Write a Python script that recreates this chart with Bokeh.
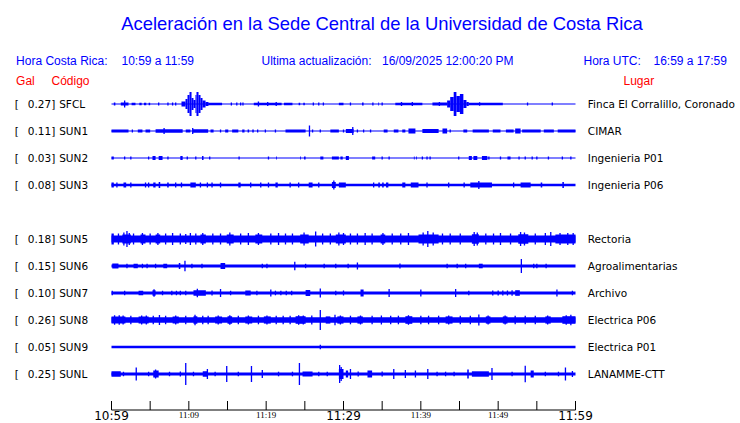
from bokeh.plotting import figure
from bokeh.models import Range1d, ColumnDataSource
from bokeh.core.properties import value
from bokeh.embed import file_html
from bokeh.resources import INLINE

# ---------------- data ----------------
TITLE = "Aceleración en la Sede Central de la Universidad de Costa Rica"
HORA_CR_LABEL = "Hora Costa Rica:"
HORA_CR = "10:59 a 11:59"
ACT_LABEL = "Ultima actualización:"
ACTUALIZACION = "16/09/2025 12:00:20 PM"
UTC_LABEL = "Hora UTC:"
HORA_UTC = "16:59 a 17:59"

codes = ["SFCL", "SUN1", "SUN2", "SUN3", "SUN5", "SUN6", "SUN7", "SUN8", "SUN9", "SUNL"]
gal = [0.27, 0.11, 0.03, 0.08, 0.18, 0.15, 0.10, 0.26, 0.05, 0.25]
places = ["Finca El Corralillo, Coronado", "CIMAR", "Ingenieria P01", "Ingenieria P06",
          "Rectoria", "Agroalimentarias", "Archivo", "Electrica P06", "Electrica P01", "LANAMME-CTT"]
rows = [0, 1, 2, 3, 5, 6, 7, 8, 9, 10]
# background noise half-amplitude (relative units) for each trace
noise = [0.5, 0.5, 0.5, 1.3, 3.6, 1.4, 1.4, 2.8, 1.2, 1.6]

# minutes after 10:59 (start, end, half amplitude in relative units); start == end -> single spike
ev_SFCL = [(0.3, 0.5, 1.5), (1.2, 2.2, 1.6), (1.7, 1.7, 3.5), (2.6, 3.1, 1.3), (3.6, 3.9, 1.3),
           (4.2, 4.5, 1.3), (4.8, 5.0, 1.3), (6.1, 6.1, 1.5), (7.3, 7.3, 1.5), (7.9, 7.9, 1.5),
           (8.3, 8.3, 1.5), (9.05, 9.57, 2.5), (9.57, 9.83, 5), (9.83, 10.09, 9), (10.09, 10.35, 12),
           (10.35, 10.6, 6), (10.6, 10.86, 4), (10.86, 10.99, 9), (10.99, 11.25, 12), (11.25, 11.51, 9),
           (11.51, 11.77, 6), (11.77, 12.16, 3.5), (12.16, 12.54, 2), (12.5, 14.3, 1.3),
           (15.5, 15.5, 1.5), (16.2, 16.2, 1.5), (16.7, 16.7, 1.5), (17.0, 17.0, 1.5),
           (18.4, 22.0, 1.3), (19.0, 19.0, 2.5), (20.2, 20.2, 2), (21.3, 21.3, 2), (22.3, 23.4, 1.3),
           (24.2, 24.4, 1.3), (24.8, 25.0, 1.3), (26.1, 26.1, 1.5), (26.8, 26.8, 1.5), (27.4, 27.4, 1.5),
           (29.4, 30.0, 1.3), (30.9, 30.9, 1.5), (32.4, 32.6, 1.5), (33.8, 33.8, 1.5), (34.5, 34.6, 1.5),
           (35.0, 35.0, 1.5), (36.7, 40.2, 1.3), (37.5, 37.5, 2), (38.9, 38.9, 2), (41.5, 43.4, 1.4),
           (42.4, 42.4, 2), (43.4, 43.8, 3.5), (43.8, 44.25, 7), (44.25, 44.6, 12), (44.6, 45.05, 8),
           (45.05, 45.5, 10), (45.5, 45.9, 4), (45.9, 46.2, 2), (46.2, 50.6, 1.3), (47.6, 47.6, 1.8),
           (53.8, 53.8, 1.5), (57.0, 57.0, 1.5)]
ev_SUN1 = [(0.0, 2.2, 1.5), (2.7, 2.7, 1.5), (3.4, 4.0, 1.5), (4.4, 5.0, 1.5), (5.7, 9.2, 1.8),
           (6.8, 6.8, 3), (9.6, 10.2, 1.5), (10.5, 12.5, 1.8), (10.5, 10.5, 3), (12.8, 13.2, 1.5),
           (14.1, 14.1, 1.5), (14.7, 15.1, 1.5), (15.6, 16.4, 1.5), (16.9, 17.2, 1.5), (17.6, 17.8, 1.5),
           (18.2, 18.4, 1.5), (18.9, 18.9, 1.5), (19.9, 19.9, 1.5), (21.2, 21.2, 1.5), (22.5, 25.1, 1.5),
           (25.6, 25.6, 5.5), (26.0, 26.0, 1.5), (27.0, 27.0, 1.5), (28.3, 29.4, 1.5), (30.0, 30.0, 1.5),
           (30.3, 31.3, 2), (31.2, 31.2, 4), (31.8, 31.8, 1.5), (32.6, 32.6, 1.5), (33.5, 33.5, 1.5),
           (35.2, 35.7, 1.5), (36.5, 37.1, 1.5), (37.6, 38.0, 1.5), (38.4, 39.3, 2.5), (40.2, 42.3, 2),
           (42.8, 43.4, 2.5), (43.8, 43.8, 1.5), (45.5, 46.0, 1.5), (46.7, 48.8, 1.5), (49.3, 50.3, 1.5),
           (51.0, 52.0, 1.5), (52.2, 52.9, 2.5), (53.1, 55.5, 1.5), (55.9, 57.2, 1.5), (57.7, 60.0, 1.5)]
ev_SUN2 = [(0.0, 0.3, 1.5), (1.7, 1.7, 1.5), (2.5, 2.5, 1.5), (4.8, 4.8, 1.5), (5.3, 5.7, 2),
           (6.1, 6.6, 2), (7.3, 7.3, 1.5), (8.9, 9.2, 2), (9.8, 9.8, 1.5), (10.9, 10.9, 1.5),
           (11.7, 11.9, 2), (12.7, 12.7, 1.5), (16.5, 16.5, 1.5), (20.3, 20.3, 1.5), (21.3, 21.4, 1.5),
           (24.4, 24.5, 1.5), (24.9, 25.1, 1.5), (27.0, 27.4, 1.5), (28.5, 29.4, 1.5), (29.6, 29.9, 1.5),
           (30.3, 30.7, 2), (33.7, 34.1, 1.5), (35.0, 35.0, 1.5), (35.9, 35.9, 1.5), (39.1, 39.2, 1.5),
           (39.4, 39.5, 1.5), (40.2, 40.2, 1.5), (40.8, 40.8, 1.5), (41.2, 41.2, 1.5), (44.9, 44.9, 1.5),
           (46.2, 46.6, 2), (46.8, 47.3, 2), (47.9, 48.6, 2), (48.8, 48.8, 1.5), (50.3, 50.3, 1.5),
           (51.2, 51.6, 1.5), (52.7, 52.7, 1.5), (53.5, 53.5, 1.5), (54.4, 54.4, 1.5), (55.0, 55.0, 1.5),
           (56.5, 56.5, 1.5), (58.3, 58.3, 1.5), (59.4, 59.4, 1.5)]
ev_SUN3 = [(0.0, 0.3, 2.5), (0.7, 0.7, 2.5), (1.55, 1.9, 2.5), (2.5, 2.5, 2.5), (4.4, 4.4, 2.5),
           (4.8, 4.8, 2.5), (5.4, 5.7, 2.5), (6.1, 6.3, 3), (7.2, 7.4, 2.5), (8.3, 8.3, 2.5),
           (9.05, 9.05, 2.5), (10.2, 10.9, 2.5), (11.5, 11.5, 2.5), (12.4, 12.4, 2.5), (13.0, 13.0, 2.5),
           (14.1, 14.1, 2.5), (16.4, 16.7, 2.5), (18.0, 18.0, 2.5), (19.3, 19.3, 2.5), (20.3, 20.3, 2.5),
           (21.2, 21.5, 2.5), (23.1, 23.1, 2.5), (24.2, 24.2, 2.5), (25.5, 26.0, 2.5), (26.8, 26.8, 2.5),
           (28.5, 29.0, 3), (28.75, 28.75, 4.5), (29.4, 30.3, 2.5), (33.9, 33.9, 2.5), (34.5, 34.7, 2.5),
           (35.0, 35.2, 2.5), (35.5, 35.8, 2.5), (37.6, 38.0, 2.5), (38.7, 39.7, 2.5), (40.8, 40.8, 2.5),
           (43.6, 43.6, 2.5), (45.6, 45.6, 2.5), (46.4, 49.2, 2.5), (47.5, 47.5, 4), (52.0, 52.0, 2.5),
           (52.9, 54.2, 2.5), (55.5, 55.7, 2.5), (58.3, 58.5, 3)]
ev_SUN5 = [(0.0, 0.3, 5.5), (0.9, 0.9, 5.5), (1.4, 2.5, 4.6), (1.6, 1.6, 6.5), (2.0, 2.0, 8),
           (2.3, 2.3, 6), (2.85, 2.85, 5.5), (3.75, 4.4, 4.6), (4.0, 4.0, 6), (5.0, 5.0, 5.5),
           (5.7, 6.3, 4.6), (6.0, 6.0, 6), (7.0, 7.0, 5.5), (7.9, 7.9, 6), (8.9, 8.9, 5.5), (9.6, 9.6, 5),
           (10.2, 10.2, 6), (10.9, 10.9, 5.5), (11.5, 12.2, 4.6), (11.8, 11.8, 6), (13.1, 13.1, 5.5),
           (14.1, 14.1, 5.5), (14.9, 15.8, 4.6), (15.3, 15.3, 6.5), (16.7, 16.7, 5.5), (17.7, 17.7, 6),
           (18.6, 19.5, 4.6), (19.0, 19.0, 6), (20.6, 20.6, 5.5), (21.6, 21.6, 6), (22.5, 22.5, 5.5),
           (23.4, 23.4, 5.5), (24.4, 25.5, 4.6), (24.9, 24.9, 6.5), (26.4, 26.4, 7.5), (27.3, 27.3, 5.5),
           (28.3, 28.3, 5.5), (29.0, 30.3, 4.6), (29.4, 29.4, 6.5), (30.0, 30.0, 6), (30.9, 30.9, 5.5),
           (31.8, 31.8, 5.5), (32.8, 32.8, 6), (33.7, 33.7, 5.5), (34.8, 35.4, 4.6), (35.1, 35.1, 6),
           (36.3, 36.3, 5.5), (37.4, 37.4, 5.5), (38.4, 38.4, 6), (39.7, 42.3, 4.6), (40.3, 40.3, 6.5),
           (40.9, 40.9, 8), (41.6, 41.6, 6.5), (42.8, 42.8, 5.5), (43.8, 43.8, 5.5), (45.1, 45.1, 5.5),
           (46.6, 47.5, 4.8), (46.9, 46.9, 7), (47.3, 47.3, 6.5), (48.4, 48.4, 5.5), (49.4, 49.4, 5.5),
           (50.3, 50.3, 6), (51.6, 51.6, 5.5), (52.6, 53.9, 4.8), (52.9, 52.9, 7), (53.4, 53.4, 6.5),
           (54.8, 54.8, 5.5), (56.1, 56.1, 6), (56.8, 56.8, 7), (57.4, 60.0, 4.6), (58.0, 58.0, 6),
           (59.0, 59.0, 6), (59.7, 59.7, 6)]
ev_SUN6 = [(0.1, 0.9, 2.5), (2.0, 2.0, 2.3), (2.85, 3.4, 2.2), (4.0, 4.0, 2.2), (4.6, 4.6, 2.2),
           (5.7, 5.7, 2.2), (6.7, 7.2, 2.2), (8.7, 8.9, 3), (9.5, 9.5, 5.3), (10.4, 10.4, 2.2),
           (11.7, 11.7, 2.2), (14.1, 14.7, 3), (19.5, 19.5, 2.2), (20.1, 20.1, 2.2), (23.7, 23.7, 4.3),
           (25.1, 25.1, 2.2), (27.5, 27.5, 2.2), (29.0, 29.0, 2.2), (30.6, 30.6, 2.2), (31.8, 31.8, 3.5),
           (37.3, 37.3, 2.5), (43.4, 43.4, 2.2), (44.7, 44.7, 2.2), (45.8, 45.8, 2.2), (47.5, 48.0, 2.3),
           (53.0, 53.0, 7), (54.6, 54.6, 2.2), (55.0, 55.0, 2.2), (56.2, 56.2, 2.2)]
ev_SUN7 = [(0.1, 0.1, 2.3), (1.7, 1.7, 2.3), (3.5, 4.1, 2.3), (5.3, 5.7, 2.8), (5.5, 5.5, 3.7),
           (6.6, 6.6, 2.3), (7.8, 7.8, 2.3), (8.4, 8.4, 2.3), (8.9, 8.9, 2.3), (9.6, 9.6, 2.3),
           (10.6, 12.2, 2.8), (11.1, 11.1, 4.3), (13.0, 13.0, 2.5), (14.1, 14.1, 4), (15.4, 15.4, 2.3),
           (17.3, 18.0, 2.5), (18.8, 18.8, 2.3), (20.6, 20.6, 3.5), (21.2, 21.2, 2.3), (21.9, 21.9, 2.3),
           (22.6, 22.6, 2.3), (23.3, 23.3, 2.3), (25.1, 25.7, 3), (27.0, 27.0, 4.5), (29.0, 29.0, 2.3),
           (30.0, 30.0, 2.5), (32.2, 32.6, 3.5), (35.9, 35.9, 4), (40.0, 40.0, 3.5), (44.5, 44.5, 4),
           (46.2, 46.2, 2.3), (49.3, 49.3, 2.5), (50.0, 50.0, 2.5), (50.6, 50.6, 2.5), (51.2, 51.2, 2.5),
           (51.8, 51.8, 2.8), (52.2, 52.8, 2.8), (57.6, 57.6, 3.5), (59.6, 59.6, 2.3)]
ev_SUN8 = [(0.0, 1.8, 3.6), (0.4, 0.4, 4.7), (1.0, 1.0, 4.7), (1.5, 1.5, 4.5), (2.5, 2.5, 4.3),
           (3.5, 4.8, 3.6), (3.9, 3.9, 4.5), (4.5, 4.5, 4.5), (5.4, 5.4, 4.3), (6.2, 6.2, 5),
           (7.0, 7.0, 4.3), (7.9, 8.7, 3.6), (8.3, 8.3, 4.5), (9.6, 9.6, 4.3), (10.6, 11.1, 3.8),
           (10.8, 10.8, 5.3), (11.8, 11.8, 4.3), (12.5, 12.5, 4.3), (13.4, 14.3, 3.6), (13.8, 13.8, 4.5),
           (15.0, 15.6, 3.8), (15.3, 15.3, 4.8), (16.4, 16.4, 4.3), (17.3, 18.2, 3.6), (17.7, 17.7, 4.5),
           (19.0, 19.0, 4.3), (19.7, 20.6, 3.6), (20.1, 20.1, 4.5), (21.3, 21.3, 4.3), (22.2, 22.2, 4.3),
           (23.1, 23.1, 4.3), (23.8, 25.1, 3.8), (24.2, 24.2, 4.8), (24.8, 24.8, 4.5), (25.9, 25.9, 4.5),
           (27.0, 27.0, 10), (27.7, 28.3, 3.6), (28.9, 28.9, 5.3), (29.2, 30.0, 3.6), (29.6, 29.6, 4.5),
           (30.9, 30.9, 4.3), (31.8, 32.5, 3.6), (32.2, 32.2, 4.5), (33.7, 33.7, 4.3), (34.9, 34.9, 4.5),
           (36.1, 36.1, 4.3), (37.1, 37.1, 4.3), (38.0, 38.9, 3.8), (38.4, 38.4, 4.8), (40.0, 40.0, 4.3),
           (41.0, 41.0, 4.3), (42.3, 42.3, 4.3), (43.2, 44.1, 3.6), (43.6, 43.6, 4.5), (45.1, 45.1, 4.3),
           (46.4, 46.4, 4.3), (47.5, 47.5, 5.5), (48.4, 49.0, 3.6), (48.7, 48.7, 4.5), (50.6, 51.2, 3.6),
           (50.9, 50.9, 4.5), (52.2, 52.2, 4.3), (53.5, 53.5, 4.3), (54.8, 54.8, 4.3), (56.1, 56.8, 3.6),
           (56.4, 56.4, 4.5), (58.3, 60.0, 3.8), (58.8, 58.8, 4.8), (59.4, 59.4, 5.2)]
ev_SUN9 = [(27.0, 27.0, 2.3)]
ev_SUNL = [(0.0, 1.2, 2.7), (1.55, 1.55, 2.3), (3.2, 3.2, 6.5), (4.8, 4.8, 2.3), (5.4, 6.1, 3.5),
           (5.7, 5.7, 4.5), (7.5, 7.5, 2.3), (8.9, 8.9, 2.5), (9.6, 9.6, 11), (10.6, 10.6, 2.3),
           (11.8, 12.4, 2.8), (12.4, 12.4, 5), (13.4, 13.4, 2.3), (14.9, 14.9, 8), (16.4, 16.4, 2.3),
           (18.1, 18.1, 8), (19.5, 19.5, 4), (21.6, 21.6, 2.3), (23.4, 23.4, 2.3), (24.3, 24.3, 11),
           (24.7, 26.0, 2.5), (26.8, 26.8, 2.3), (27.9, 27.9, 2.3), (29.4, 30.0, 5), (29.5, 29.5, 9),
           (29.7, 29.7, 7), (30.3, 30.6, 3.5), (30.9, 30.9, 5), (31.9, 31.9, 2.5), (33.1, 33.7, 3.5),
           (35.0, 35.0, 2.5), (36.5, 36.5, 5), (38.0, 38.0, 4), (39.3, 39.3, 3.5), (40.9, 40.9, 5),
           (42.1, 42.1, 2.3), (43.2, 43.2, 2.3), (44.3, 44.3, 2.3), (46.0, 46.2, 4.5), (46.6, 48.8, 2.7),
           (49.2, 49.2, 6), (51.8, 51.8, 2.3), (53.5, 53.5, 8.3), (54.2, 54.6, 3.5), (56.1, 56.1, 2.3),
           (57.8, 57.8, 2.3), (58.7, 58.7, 6.5), (59.6, 59.6, 3)]
events = [ev_SFCL, ev_SUN1, ev_SUN2, ev_SUN3, ev_SUN5, ev_SUN6, ev_SUN7, ev_SUN8, ev_SUN9, ev_SUNL]

window_minutes = [0, 60]
tick_minutes = [0, 5, 10, 15, 20, 25, 30, 35, 40, 45, 50, 55, 60]
big_label_minutes = [0, 30, 60]
big_labels = ["10:59", "11:29", "11:59"]
small_label_minutes = [10, 20, 40, 50]
small_labels = ["11:09", "11:19", "11:39", "11:49"]

# ---------------- layout helpers (reference pixels -> data) ----------------
W, H = 740, 423
PX_PER_MIN = 464.0 / 60.0
ROW_PX = 27.0
GAIN = 1.0 / ROW_PX          # relative amplitude unit -> row units
SPIKE_W = 0.17               # width of single spikes, minutes


def mx(px):
    return (px - 111.0) / PX_PER_MIN


def ry(py):
    return (py - 103.5) / ROW_PX


BLUE = "#0000ff"
RED = "#ff0000"

p = figure(width=W, height=H, output_backend="svg", toolbar_location=None,
           x_range=Range1d(mx(0), mx(W)), y_range=Range1d(ry(H), ry(0)),
           x_axis_type=None, y_axis_type=None, min_border=0)
p.grid.visible = False
p.outline_line_color = None
p.background_fill_color = "white"
p.border_fill_color = "white"

# traces: background band + events
L, R, B, T = [], [], [], []
for row, nz, evs in zip(rows, noise, events):
    L.append(window_minutes[0]); R.append(window_minutes[1])
    B.append(row - nz * GAIN); T.append(row + nz * GAIN)
    for t0, t1, a in evs:
        if t1 <= t0:
            t0, t1 = t0 - SPIKE_W / 2, t0 + SPIKE_W / 2
        L.append(max(t0, window_minutes[0])); R.append(min(t1, window_minutes[1]))
        B.append(row - a * GAIN); T.append(row + a * GAIN)
p.quad(left="left", right="right", bottom="bottom", top="top",
       source=ColumnDataSource(dict(left=L, right=R, bottom=B, top=T)),
       fill_color=BLUE, line_color=None)

# time axis
p.segment(x0=[window_minutes[0]], x1=[window_minutes[1]], y0=[ry(409.5)], y1=[ry(409.5)],
          line_color="black", line_width=1)
p.segment(x0=tick_minutes, x1=tick_minutes, y0=[ry(400.5)] * len(tick_minutes),
          y1=[ry(409.5)] * len(tick_minutes), line_color="black", line_width=1)
p.text(x=big_label_minutes, y=[ry(415.3)] * 3, text=big_labels,
       text_font=value("DejaVu Sans"), text_font_size="12px", text_color="black",
       text_align="center", text_baseline="middle")
p.text(x=small_label_minutes, y=[ry(414.3)] * 4, text=small_labels,
       text_font=value("Liberation Serif"), text_font_size="9px", text_color="black",
       text_align="center", text_baseline="middle")

# row labels
nrow = len(rows)
lbl_y = [ry(103.5 + r * ROW_PX) for r in rows]
p.text(x=[mx(14.3)] * nrow, y=lbl_y, text=["["] * nrow, text_font=value("DejaVu Sans"),
       text_font_size="10.5px", text_color="black", text_baseline="middle")
p.text(x=[mx(27.3)] * nrow, y=lbl_y, text=[f"{g:.2f}]" for g in gal], text_font=value("DejaVu Sans"),
       text_font_size="10.5px", text_color="black", text_baseline="middle")
p.text(x=[mx(58.7)] * nrow, y=lbl_y, text=codes, text_font=value("DejaVu Sans"),
       text_font_size="10.5px", text_color="black", text_baseline="middle")
p.text(x=[mx(587.3)] * nrow, y=lbl_y, text=places, text_font=value("DejaVu Sans"),
       text_font_size="10.5px", text_color="black", text_baseline="middle")

# header
p.text(x=[mx(381.5)], y=[ry(22.5)], text=[TITLE], text_font=value("Liberation Sans"),
       text_font_size="18.4px", text_color=BLUE, text_align="center", text_baseline="middle")
p.text(x=[mx(15.6), mx(121), mx(261), mx(381.5), mx(583), mx(653)], y=[ry(60.5)] * 6,
       text=[HORA_CR_LABEL, HORA_CR, ACT_LABEL, ACTUALIZACION, UTC_LABEL, HORA_UTC],
       text_font=value("Liberation Sans"), text_font_size="12px", text_color=BLUE,
       text_baseline="middle")
p.text(x=[mx(15.6), mx(51), mx(623)], y=[ry(80.5)] * 3, text=["Gal", "Código", "Lugar"],
       text_font=value("Liberation Sans"), text_font_size="12px", text_color=RED,
       text_baseline="middle")

open("out.html", "w").write(file_html(p, INLINE))
